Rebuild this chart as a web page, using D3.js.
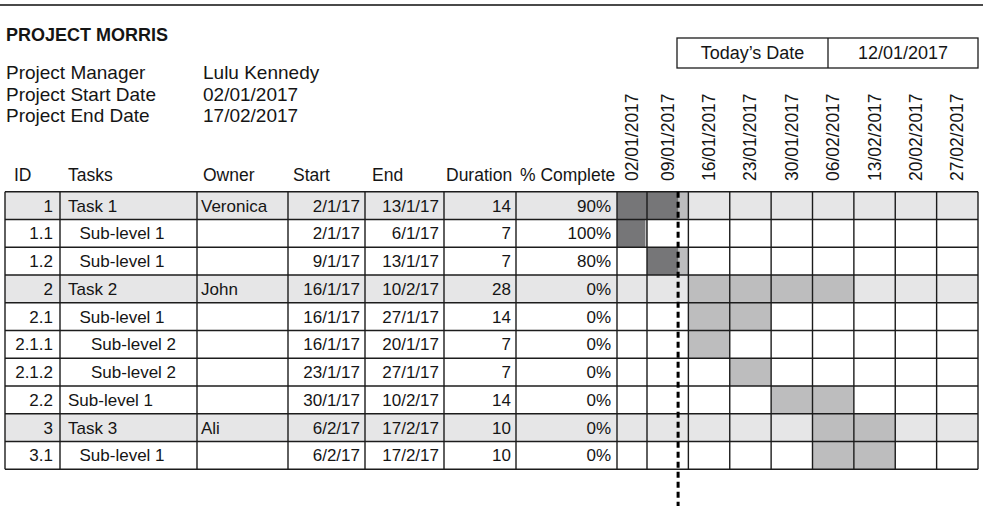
<!DOCTYPE html>
<html>
<head>
<meta charset="utf-8">
<script src="https://cdn.jsdelivr.net/npm/d3@7"></script>
<style>
  html, body { margin: 0; padding: 0; background: #fff; }
  svg { display: block; font-family: "Liberation Sans", Arial, Helvetica, sans-serif; }
</style>
</head>
<body>
<div id="chart"></div>
<script>
// ---------------- DATA ----------------
const projectTitle = "PROJECT MORRIS";
const infoLabels = ["Project Manager", "Project Start Date", "Project End Date"];
const infoValues = ["Lulu Kennedy", "02/01/2017", "17/02/2017"];
const todayLabel = "Today\u2019s Date";
const todayDate = "2017-01-12";

const columnHeaders = ["ID", "Tasks", "Owner", "Start", "End", "Duration", "% Complete"];

const ids = ["1", "1.1", "1.2", "2", "2.1", "2.1.1", "2.1.2", "2.2", "3", "3.1"];
const taskNames = ["Task 1", "Sub-level 1", "Sub-level 1", "Task 2", "Sub-level 1",
                   "Sub-level 2", "Sub-level 2", "Sub-level 1", "Task 3", "Sub-level 1"];
const indentLevels = [0, 1, 1, 0, 1, 2, 2, 0, 0, 1];
const topLevel = [true, false, false, true, false, false, false, false, true, false];
const owners = ["Veronica", "", "", "John", "", "", "", "", "Ali", ""];
const startDates = ["2017-01-02", "2017-01-02", "2017-01-09", "2017-01-16", "2017-01-16",
                    "2017-01-16", "2017-01-23", "2017-01-30", "2017-02-06", "2017-02-06"];
const endDates = ["2017-01-13", "2017-01-06", "2017-01-13", "2017-02-10", "2017-01-27",
                  "2017-01-20", "2017-01-27", "2017-02-10", "2017-02-17", "2017-02-17"];
const durations = [14, 7, 7, 28, 14, 7, 7, 14, 10, 10];
const pctComplete = [0.9, 1.0, 0.8, 0, 0, 0, 0, 0, 0, 0];

const weekStarts = ["2017-01-02", "2017-01-09", "2017-01-16", "2017-01-23", "2017-01-30",
                    "2017-02-06", "2017-02-13", "2017-02-20", "2017-02-27"];

// ---------------- LAYOUT ----------------
const W = 983, H = 506;
const parse = d3.timeParse("%Y-%m-%d");
const fmtShort = d => `${d.getDate()}/${d.getMonth() + 1}/${String(d.getFullYear()).slice(2)}`;
const fmtLong = d3.timeFormat("%d/%m/%Y");

const tableLeft = 5;
const colEdges = [tableLeft, 60, 197, 288, 365, 444, 516, 617];
const ganttLeft = 617, ganttRight = 978, firstWeekW = 30;
const tableTop = 191.7, rowH = 27.75;
const nRows = ids.length;
const tableBottom = tableTop + nRows * rowH;

const C = {
  line: "#1c1c1c",
  rowBg: "#e6e6e7",
  planned: "#bdbdbe",
  progress: "#767678",
  text: "#151515"
};

const origin = parse(weekStarts[0]);
const nWeeks = weekStarts.length;
// workday index (Mon-Fri) since origin
function wd(date) {
  const w = d3.timeMonday.count(origin, date);
  const dow = (date.getDay() + 6) % 7;
  return w * 5 + Math.min(dow, 5);
}
function weekIdx(date) { return d3.timeMonday.count(origin, date); }

// piecewise scale: first week column narrower
const x = d3.scaleLinear()
  .domain([0, 5, nWeeks * 5])
  .range([ganttLeft, ganttLeft + firstWeekW, ganttRight]);

const y = d3.scaleBand().domain(d3.range(nRows)).range([tableTop, tableBottom]).padding(0);

const svg = d3.select("#chart").append("svg").attr("width", W).attr("height", H);

// top rule
svg.append("line").attr("x1", 0).attr("x2", W).attr("y1", 5).attr("y2", 5)
  .attr("stroke", "#4a4a4a").attr("stroke-width", 2);

// title + info
svg.append("text").attr("x", 6).attr("y", 41).text(projectTitle)
  .attr("font-weight", "bold").attr("font-size", 18).attr("fill", C.text);
infoLabels.forEach((l, i) => {
  svg.append("text").attr("x", 6).attr("y", 79 + i * 21.7).text(l)
    .attr("font-size", 19).attr("fill", C.text);
  svg.append("text").attr("x", 203).attr("y", 79 + i * 21.7).text(infoValues[i])
    .attr("font-size", 19).attr("fill", C.text);
});

// today's date box
const boxTop = 38, boxBot = 68, boxL = 677, boxMid = 828, boxR = 978;
const box = svg.append("g");
box.append("rect").attr("x", boxL).attr("y", boxTop).attr("width", boxR - boxL).attr("height", boxBot - boxTop)
  .attr("fill", "none").attr("stroke", C.line).attr("stroke-width", 1.3);
box.append("line").attr("x1", boxMid).attr("x2", boxMid).attr("y1", boxTop).attr("y2", boxBot)
  .attr("stroke", C.line).attr("stroke-width", 1.3);
box.append("text").attr("x", (boxL + boxMid) / 2).attr("y", 59).attr("text-anchor", "middle")
  .attr("font-size", 18).attr("fill", C.text).text(todayLabel);
box.append("text").attr("x", (boxMid + boxR) / 2).attr("y", 59).attr("text-anchor", "middle")
  .attr("font-size", 18).attr("fill", C.text).text(fmtLong(parse(todayDate)));

// column headers
const headerX = [14, 68, 203, 293, 372, 446, 520];
columnHeaders.forEach((h, i) => {
  svg.append("text").attr("x", headerX[i]).attr("y", 181).text(h)
    .attr("font-size", 17.5).attr("fill", C.text);
});

// rotated week labels
weekStarts.forEach((w, i) => {
  const d = parse(w);
  const cx = (x(i * 5) + x(i * 5 + 5)) / 2;
  svg.append("text")
    .attr("transform", `translate(${cx + 6},181) rotate(-90)`)
    .attr("font-size", 17.5).attr("fill", C.text)
    .text(fmtLong(d));
});

// row backgrounds
svg.append("g").selectAll("rect").data(d3.range(nRows).filter(i => topLevel[i])).join("rect")
  .attr("x", tableLeft).attr("y", i => y(i)).attr("width", ganttRight - tableLeft).attr("height", rowH)
  .attr("fill", C.rowBg);

// planned bars (full week cells)
svg.append("g").selectAll("rect").data(d3.range(nRows)).join("rect")
  .attr("x", i => x(weekIdx(parse(startDates[i])) * 5))
  .attr("width", i => x((weekIdx(parse(endDates[i])) + 1) * 5) - x(weekIdx(parse(startDates[i])) * 5))
  .attr("y", i => y(i)).attr("height", rowH)
  .attr("fill", C.planned);

// progress bars
svg.append("g").selectAll("rect").data(d3.range(nRows).filter(i => pctComplete[i] > 0)).join("rect")
  .attr("x", i => x(wd(parse(startDates[i]))))
  .attr("width", i => {
    const s = wd(parse(startDates[i])), e = wd(parse(endDates[i])) + 1;
    return x(s + pctComplete[i] * (e - s)) - x(s) - 2;
  })
  .attr("y", i => y(i)).attr("height", rowH)
  .attr("fill", C.progress);

// grid lines
const grid = svg.append("g").attr("stroke", C.line).attr("stroke-width", 1.4);
d3.range(nRows + 1).forEach(i => {
  const yy = tableTop + i * rowH;
  grid.append("line").attr("x1", tableLeft).attr("x2", ganttRight).attr("y1", yy).attr("y2", yy);
});
colEdges.forEach(cx => {
  grid.append("line").attr("x1", cx).attr("x2", cx).attr("y1", tableTop).attr("y2", tableBottom);
});
d3.range(1, nWeeks + 1).forEach(i => {
  grid.append("line").attr("x1", x(i * 5)).attr("x2", x(i * 5)).attr("y1", tableTop).attr("y2", tableBottom);
});

// row text
const rows = svg.append("g").attr("font-size", 17).attr("fill", C.text);
d3.range(nRows).forEach(i => {
  const by = y(i) + rowH / 2 + 6;
  rows.append("text").attr("x", colEdges[1] - 7).attr("y", by).attr("text-anchor", "end").text(ids[i]);
  rows.append("text").attr("x", colEdges[1] + 8 + indentLevels[i] * 11.5).attr("y", by).text(taskNames[i]);
  rows.append("text").attr("x", colEdges[2] + 4).attr("y", by).text(owners[i]);
  rows.append("text").attr("x", colEdges[4] - 5).attr("y", by).attr("text-anchor", "end").text(fmtShort(parse(startDates[i])));
  rows.append("text").attr("x", colEdges[5] - 5).attr("y", by).attr("text-anchor", "end").text(fmtShort(parse(endDates[i])));
  rows.append("text").attr("x", colEdges[6] - 5).attr("y", by).attr("text-anchor", "end").text(durations[i]);
  rows.append("text").attr("x", colEdges[7] - 6).attr("y", by).attr("text-anchor", "end").text(d3.format(".0%")(pctComplete[i]));
});

// today line
const tx = x(wd(parse(todayDate)) + 1) - 2;
svg.append("line").attr("x1", tx).attr("x2", tx).attr("y1", tableTop).attr("y2", H)
  .attr("stroke", "#000").attr("stroke-width", 3).attr("stroke-dasharray", "6,4");
</script>
</body>
</html>
